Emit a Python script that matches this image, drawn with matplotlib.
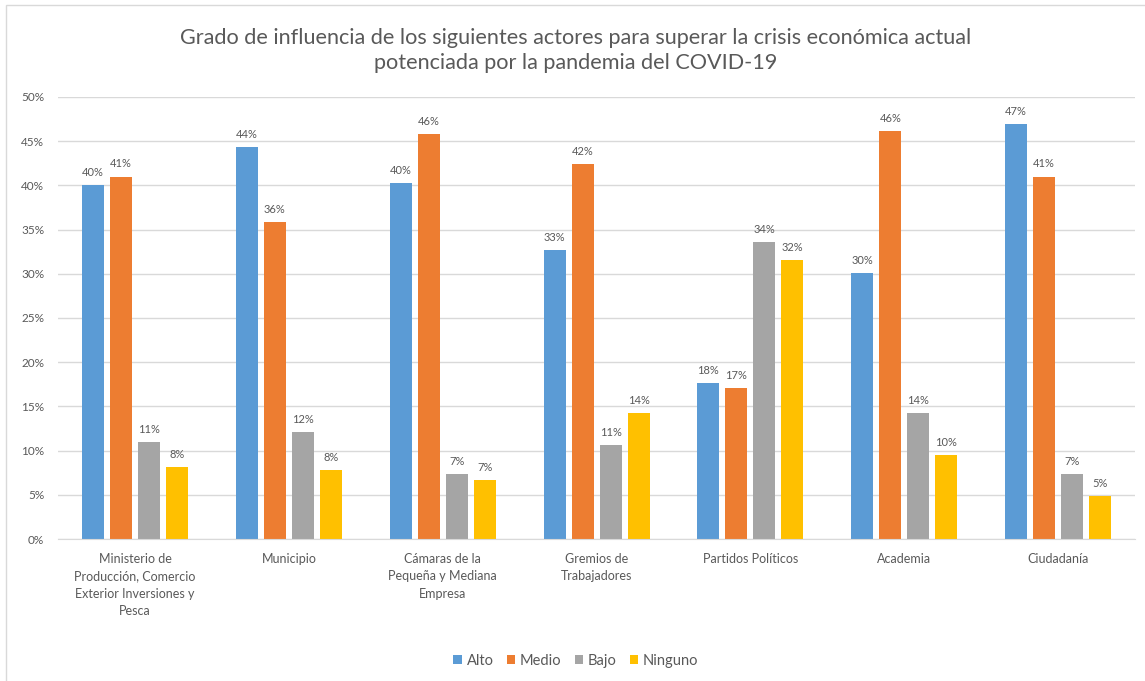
import matplotlib
matplotlib.use("Agg")
import matplotlib.pyplot as plt
import matplotlib.patches as mpatches
from matplotlib.ticker import FuncFormatter
import numpy as np

# ── Data ─────────────────────────────────────────────────────────────────────
categories = [
    "Ministerio de\nProducción, Comercio\nExterior Inversiones y\nPesca",
    "Municipio",
    "Cámaras de la\nPequeña y Mediana\nEmpresa",
    "Gremios de\nTrabajadores",
    "Partidos Políticos",
    "Academia",
    "Ciudadanía",
]
series = ["Alto", "Medio", "Bajo", "Ninguno"]
alto = [40.0, 44.3, 40.3, 32.7, 17.6, 30.1, 46.9]
medio = [41.0, 35.9, 45.8, 42.4, 17.1, 46.1, 41.0]
bajo = [11.0, 12.1, 7.3, 10.6, 33.6, 14.3, 7.3]
ninguno = [8.1, 7.8, 6.7, 14.3, 31.6, 9.5, 4.9]
values = [alto, medio, bajo, ninguno]
colors = ["#5b9bd5", "#ed7d31", "#a5a5a5", "#ffc000"]

title = ("Grado de influencia de los siguientes actores para superar la crisis económica actual\n"
         "potenciada por la pandemia del COVID-19")

TXT = "#595959"
plt.rcParams["font.family"] = ["Lato", "DejaVu Sans"]

fig = plt.figure(figsize=(11.45, 6.81), dpi=100)
ax = fig.add_axes([0.0507, 0.2085, 0.9406, 0.6491])

# chart frame
fig.patches.append(mpatches.Rectangle((0.0052, -0.05), 1.1, 1.0427, transform=fig.transFigure,
                                      fill=False, edgecolor="#d9d9d9", linewidth=1.0))

x = np.arange(len(categories))
width = 0.143
step = 0.182
for i, (name, vals, col) in enumerate(zip(series, values, colors)):
    pos = x + (i - 1.5) * step
    ax.bar(pos, vals, width, color=col, label=name, zorder=2)
    for px, v in zip(pos, vals):
        ax.text(px, v + 0.8, f"{round(v):.0f}%", ha="center", va="bottom",
                fontsize=8, color=TXT)

ax.set_xlim(-0.5, len(categories) - 0.5)
ax.set_ylim(0, 50)
ax.set_yticks(np.arange(0, 51, 5))
ax.yaxis.set_major_formatter(FuncFormatter(lambda v, _: f"{v:.0f}%"))
ax.grid(axis="y", color="#d9d9d9", linewidth=1.0, zorder=0)
ax.set_axisbelow(True)
for s in ["top", "right", "left"]:
    ax.spines[s].set_visible(False)
ax.spines["bottom"].set_color("#d9d9d9")
ax.tick_params(axis="y", length=0, labelsize=8.5, labelcolor=TXT, pad=10)
ax.tick_params(axis="x", length=0, labelsize=9, labelcolor=TXT, pad=10)
ax.set_xticks(x)
ax.set_xticklabels(categories, linespacing=1.55)

fig.text(0.503, 0.926, title, ha="center", va="center", fontsize=15.6, color=TXT,
         linespacing=1.35)

ax.legend(loc="center", bbox_to_anchor=(0.503, 0.03), bbox_transform=fig.transFigure,
          ncol=4, frameon=False, fontsize=10.5, labelcolor=TXT, handlelength=0.6,
          handleheight=0.6, handletextpad=0.3, columnspacing=0.9)

fig.savefig("out.png", dpi=100)
